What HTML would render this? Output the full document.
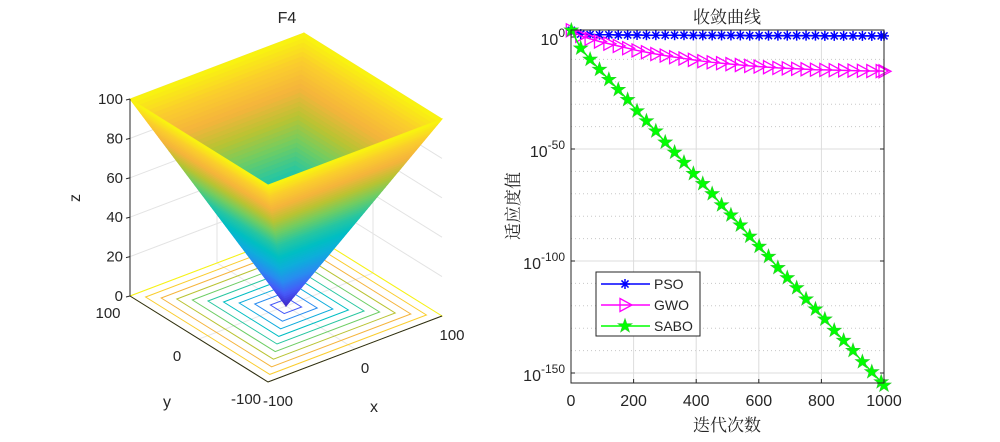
<!DOCTYPE html>
<html><head><meta charset="utf-8"><style>
body{margin:0;background:#fff;}
svg text{font-family:"Liberation Sans","Noto Sans CJK SC",sans-serif;fill:#262626;}
svg text.cn{font-family:"Liberation Serif","Noto Serif CJK SC",serif;}
</style></head><body>
<svg id="fig" width="1000" height="437" viewBox="0 0 1000 437" xmlns="http://www.w3.org/2000/svg">
<g id="left"></g>
<g id="right"></g>
</svg>
<script>
// ---- Convergence data (log10 of fitness) ----
const iters = [1,31,61,91,121,151,181,211,241,271,301,331,361,391,421,451,481,511,541,571,601,631,661,691,721,751,781,811,841,871,901,931,961,991,1000];
const psoLog = [3,1.3,1.1,1,1,0.9,0.9,0.9,0.8,0.8,0.8,0.8,0.8,0.7,0.7,0.7,0.7,0.7,0.7,0.6,0.6,0.6,0.6,0.6,0.6,0.6,0.6,0.5,0.5,0.5,0.5,0.5,0.5,0.5,0.5];
const gwoLog = [3,0.5,-0.8,-2,-3,-4,-5,-6,-6.8,-7.6,-8.3,-9,-9.6,-10.2,-10.8,-11.3,-11.7,-12.1,-12.5,-12.9,-13.2,-13.5,-13.8,-14,-14.2,-14.4,-14.6,-14.7,-14.8,-14.9,-15,-15.1,-15.2,-15.2,-15.3];
const saboLog = [3,-5,-10,-14.5,-19,-23.5,-28,-33,-37.5,-42,-47,-51.5,-56,-61,-65.5,-70,-75,-79.5,-84,-89,-93.5,-98,-103,-107.5,-112,-117,-121.5,-126,-131,-135.5,-140,-145,-149.5,-154,-155.5];
const xTicks = [0,200,400,600,800,1000];
const yTickExp = [0,-50,-100,-150];
// ---- Surface plot ticks ----
const zTicks = [0,20,40,60,80,100];
const xyTicks = [-100,0,100];
const contourLevels = [10,20,30,40,50,60,70,80,90,100];

const NS='http://www.w3.org/2000/svg';
function mk(tag,attrs,parent,txt){const e=document.createElementNS(NS,tag);for(const k in attrs)e.setAttribute(k,attrs[k]);if(txt!==undefined)e.textContent=txt;parent.appendChild(e);return e;}

// parula
const par=[[0,62,38,200],[0.1,70,90,248],[0.2,40,140,240],[0.3,15,172,220],[0.4,0,190,195],[0.5,40,198,160],[0.6,110,205,100],[0.7,185,195,50],[0.8,245,180,60],[0.9,250,205,45],[1,249,245,14]];
function parula(t){t=Math.max(0,Math.min(1,t));for(let i=1;i<par.length;i++){if(t<=par[i][0]){const a=par[i-1],b=par[i],f=(t-a[0])/(b[0]-a[0]);return 'rgb('+[1,2,3].map(k=>Math.round(a[k]+(b[k]-a[k])*f)).join(',')+')';}}return 'rgb(249,245,14)';}

// ===== LEFT 3D =====
const L=document.getElementById('left');
function P(x,y,z){return [286+x*0.87-y*0.69, 306-x*0.33-y*0.43-z*1.97];}
function pts(a){return a.map(p=>p.join(',')).join(' ');}
for(const z of zTicks){
  const a=P(-100,100,z),b=P(100,100,z),c=P(100,-100,z);
  const g=mk('polyline',{points:pts([a,b,c]),fill:'none',stroke:'#e3e3e3','stroke-width':1},L);
  
}
for(const v of [[0,100],[100,100],[100,0]]){
  const g=mk('line',{x1:P(v[0],v[1],0)[0],y1:P(v[0],v[1],0)[1],x2:P(v[0],v[1],100)[0],y2:P(v[0],v[1],100)[1],stroke:'#e3e3e3'},L);
  
}
mk('line',{x1:P(0,-100,0)[0],y1:P(0,-100,0)[1],x2:P(0,100,0)[0],y2:P(0,100,0)[1],stroke:'#e8e8e8'},L);
mk('line',{x1:P(-100,0,0)[0],y1:P(-100,0,0)[1],x2:P(100,0,0)[0],y2:P(100,0,0)[1],stroke:'#e8e8e8'},L);
for(const r of contourLevels){
  const c=mk('polygon',{points:pts([P(-r,r,0),P(r,r,0),P(r,-r,0),P(-r,-r,0)]),fill:'none',stroke:parula(r/100),'stroke-width':1},L);
  
}
const faces=[[[-100,100],[100,100]],[[100,100],[100,-100]],[[-100,-100],[-100,100]],[[100,-100],[-100,-100]]];
const N=60;
faces.forEach((f,fi)=>{
  const g=mk('g',{},L);
  
  for(let i=0;i<N;i++){
    const z1=100*i/N,z2=100*(i+1)/N;
    const A=f[0],B=f[1];
    const q=[P(A[0]*z1/100,A[1]*z1/100,z1),P(B[0]*z1/100,B[1]*z1/100,z1),P(B[0]*z2/100,B[1]*z2/100,z2),P(A[0]*z2/100,A[1]*z2/100,z2)];
    const col=parula((z1+z2)/200);
    mk('polygon',{points:pts(q),fill:col,stroke:col,'stroke-width':0.8},g);
  }
});
mk('line',{x1:P(-100,100,0)[0],y1:P(-100,100,0)[1],x2:P(-100,100,100)[0],y2:P(-100,100,100)[1],stroke:'#262626'},L);
mk('polyline',{points:pts([P(-100,100,0),P(-100,-100,0),P(100,-100,0)]),fill:'none',stroke:'#262626'},L);
for(const z of zTicks){const p=P(-100,100,z);
  mk('line',{x1:p[0]-4,y1:p[1]+1,x2:p[0],y2:p[1],stroke:'#262626'},L);
  const t=mk('text',{x:p[0]-7,y:p[1]+5,'text-anchor':'end','font-size':15},L,z);
  }
for(const v of xyTicks){
  const p=P(v,-100,0);
  const t=mk('text',{x:p[0]+10,y:p[1]+24,'text-anchor':'middle','font-size':15},L,v);
  
  const q=P(-100,v,0);
  const t2=mk('text',{x:q[0]-22,y:q[1]+22,'text-anchor':'middle','font-size':15},L,v);
  
}
let t=mk('text',{x:374,y:412,'text-anchor':'middle','font-size':16},L,'x');
t=mk('text',{x:167,y:407,'text-anchor':'middle','font-size':16},L,'y');
t=mk('text',{x:0,y:0,'text-anchor':'middle','font-size':16,transform:'translate(80,198) rotate(-90)'},L,'z');
t=mk('text',{x:287,y:23,'text-anchor':'middle','font-size':16},L,'F4');

// ===== RIGHT chart =====
const R=document.getElementById('right');
const X0=571,X1=884,Y0=383,YT=30;
const xs=v=>X0+(v/1000)*(X1-X0);
const ys=e=>37-e*(112/50);
mk('rect',{x:X0,y:YT,width:X1-X0,height:Y0-YT,fill:'#fff'},R);
for(let e=0;e>=-150;e-=10){ if(e%50===0)continue;
  mk('line',{x1:X0,x2:X1,y1:ys(e),y2:ys(e),stroke:'#c8c8c8','stroke-dasharray':'1,3'},R);}
for(const e of yTickExp){
  const l=mk('line',{x1:X0,x2:X1,y1:ys(e),y2:ys(e),stroke:'#dcdcdc'},R);
  mk('line',{x1:X0,x2:X0+4,y1:ys(e),y2:ys(e),stroke:'#262626'},R);mk('line',{x1:X1-4,x2:X1,y1:ys(e),y2:ys(e),stroke:'#262626'},R);
  const tx=mk('text',{x:X0-6,y:ys(e)+8,'text-anchor':'end','font-size':16},R);
  
  mk('tspan',{},tx,'10');mk('tspan',{dy:-8,'font-size':12},tx,String(e));
}
for(const v of xTicks){
  if(v>0&&v<1000){const l=mk('line',{x1:xs(v),x2:xs(v),y1:YT,y2:Y0,stroke:'#dcdcdc'},R);}
  mk('line',{x1:xs(v),x2:xs(v),y1:Y0,y2:Y0-4,stroke:'#262626'},R);
  const tx=mk('text',{x:xs(v),y:Y0+23,'text-anchor':'middle','font-size':16},R,v);
  
}
function star(cx,cy,r){let s=[];for(let i=0;i<10;i++){const a=-Math.PI/2+i*Math.PI/5,rr=i%2?r*0.4:r;s.push([cx+rr*Math.cos(a),cy+rr*Math.sin(a)]);}return pts(s);}
function marker(g,type,cx,cy,col){
  if(type==='ast'){for(let k=0;k<4;k++){const a=k*Math.PI/4;mk('line',{x1:cx-5*Math.cos(a),y1:cy-5*Math.sin(a),x2:cx+5*Math.cos(a),y2:cy+5*Math.sin(a),stroke:col,'stroke-width':1.5},g);}}
  else if(type==='tri'){mk('polygon',{points:pts([[cx-5,cy-6.5],[cx+7,cy],[cx-5,cy+6.5]]),fill:'none',stroke:col,'stroke-width':1.3},g);}
  else {mk('polygon',{points:star(cx,cy,7.5),fill:col,stroke:'#2ec82e','stroke-width':0.6},g);}
}
const series=[['pso-line',psoLog,'#0000ff','ast'],['gwo-line',gwoLog,'#ff00ff','tri'],['sabo-line',saboLog,'#00ff00','star']];
for(const s of series){
  const g=mk('g',{},R);
  mk('polyline',{points:pts(iters.map((v,i)=>[xs(v),ys(s[1][i])])),fill:'none',stroke:s[2],'stroke-width':1.5},g);
  iters.forEach((v,i)=>marker(g,s[3],xs(v),ys(s[1][i]),s[2]));
}
mk('rect',{x:X0,y:YT,width:X1-X0,height:Y0-YT,fill:'none',stroke:'#262626','stroke-width':1},R);
const lg=mk('g',{},R);
mk('rect',{x:596,y:272,width:104,height:64,fill:'#fff',stroke:'#262626'},lg);
[['PSO','#0000ff','ast'],['GWO','#ff00ff','tri'],['SABO','#00ff00','star']].forEach((e,i)=>{
  const y=284+i*21;const gg=mk('g',{},lg);
  mk('line',{x1:601,x2:650,y1:y,y2:y,stroke:e[1],'stroke-width':1.5},gg);marker(gg,e[2],625,y,e[1]);
  mk('text',{x:654,y:y+5,'font-size':14},gg,e[0]);
});
t=mk('text',{x:727,y:431,'text-anchor':'middle','font-size':17,class:'cn'},R,'迭代次数');
t=mk('text',{x:0,y:0,'text-anchor':'middle','font-size':17,class:'cn',transform:'translate(519,206) rotate(-90)'},R,'适应度值');
t=mk('text',{x:727,y:23,'text-anchor':'middle','font-size':17,class:'cn'},R,'收敛曲线');
</script>
</body></html>
